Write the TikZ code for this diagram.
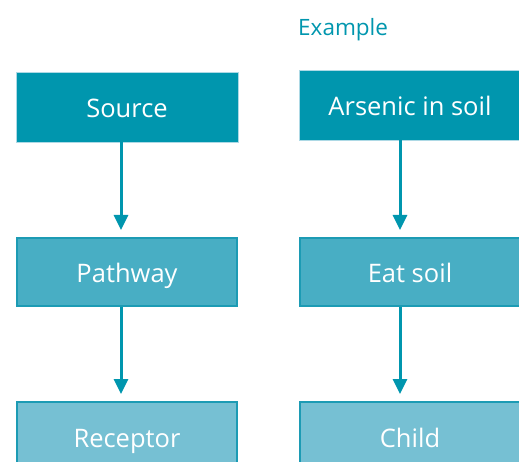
\documentclass[tikz,border=0pt]{standalone}
\usepackage{fontspec}
\setmainfont{Open Sans}
\usetikzlibrary{arrows.meta, positioning, calc}
\definecolor{sourceteal}{RGB}{0,150,174}
\definecolor{pathteal}{RGB}{72,174,196}
\definecolor{receptteal}{RGB}{118,192,211}
\definecolor{edgeteal}{RGB}{28,155,180}
\tikzset{
    boxtext/.style={text=white, font=\fontsize{25.5}{29}\selectfont, text height=22pt, text depth=0pt},
    sourcebox/.style={rectangle, draw=receptteal!60, fill=sourceteal, line width=0.6pt, minimum width=222pt, minimum height=70pt, boxtext},
    pathbox/.style={rectangle, draw=edgeteal, fill=pathteal, line width=2pt, minimum width=220pt, minimum height=68pt, boxtext},
    receptbox/.style={rectangle, draw=edgeteal, fill=receptteal, line width=2pt, minimum width=220pt, minimum height=68pt, boxtext},
    flow/.style={-{Triangle[length=15pt, width=14pt]}, line width=3pt, sourceteal, shorten >=7pt},
}

\begin{document}
\begin{tikzpicture}[x=1pt, y=-1pt]
    \useasboundingbox (0,0) rectangle (519,462);
    \clip (0,0) rectangle (519,462);
    % columns for the arrows
    \coordinate (colL) at (121,0);
    \coordinate (colR) at (400,0);
    % left: general model
    \node[sourcebox] (src) at (127,107) {Source};
    \node[pathbox] (pth) at (127,272) {Pathway};
    \node[receptbox] (rec) at (127,436) {Receptor};
    % right: example
    \node[text=sourceteal, anchor=base west, inner sep=0pt, font=\fontsize{22.5}{26}\selectfont] (exlbl) at (298,36) {Example};
    \node[sourcebox] (ars) at (410,105) {Arsenic in soil};
    \node[pathbox] (eat) at (410,272) {Eat soil};
    \node[receptbox] (chd) at (410,436) {Child};
    \draw[flow] (src.south -| colL) -- (pth.north -| colL);
    \draw[flow] (pth.south -| colL) -- (rec.north -| colL);
    \draw[flow] (ars.south -| colR) -- (eat.north -| colR);
    \draw[flow] (eat.south -| colR) -- (chd.north -| colR);
\end{tikzpicture}
\end{document}
